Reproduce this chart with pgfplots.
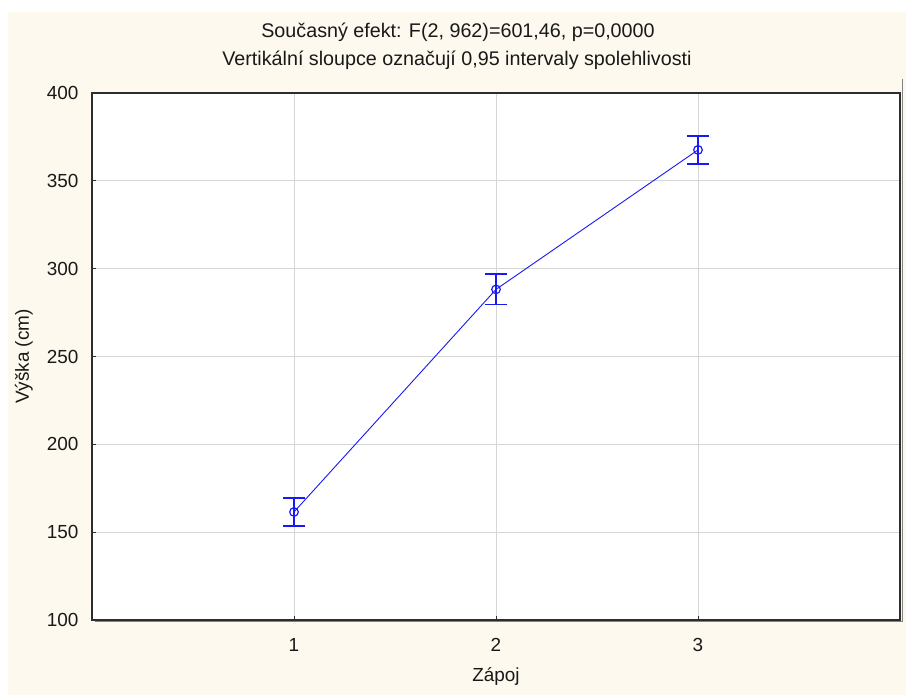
\documentclass[border=0pt]{standalone}
\usepackage{fontspec}
\setmainfont{Liberation Sans}
\usepackage{pgfplots}
\pgfplotsset{compat=1.18}
\definecolor{cream}{RGB}{253,249,238}
\definecolor{gridgray}{RGB}{214,214,214}
\definecolor{framecol}{RGB}{45,45,45}
\definecolor{shadowcol}{RGB}{130,130,130}
\definecolor{serblue}{RGB}{25,25,245}
\definecolor{txt}{RGB}{25,25,25}

\begin{document}
\fontsize{19}{23}\selectfont
\begin{tikzpicture}
  % page frame: white margin on the left and top, cream panel behind the chart
  \path[use as bounding box] (0,0) rectangle (906bp,695bp);
  \fill[white] (0,0) rectangle (906bp,695bp);
  \fill[cream] (8bp,0) rectangle (906bp,683bp);

  % two-line title
  \node[txt, font=\fontsize{19.8}{23}\selectfont] at (458bp,663bp) {Současný efekt: F(2, 962)=601,46, p=0,0000};
  \node[txt, font=\fontsize{19.8}{23}\selectfont] at (457bp,635bp) {Vertikální sloupce označují 0,95 intervaly spolehlivosti};

  \begin{axis}[
      at={(92bp,75bp)}, anchor=south west,
      scale only axis, width=808bp, height=527bp,
      xmin=0, xmax=4, ymin=100, ymax=400,
      xtick={1,2,3}, ytick={100,150,...,400},
      grid=major, grid style={gridgray, line width=1bp},
      axis line style={framecol, line width=1.4bp},
      axis background/.style={fill=white},
      tick align=inside, tick pos=left,
      major tick length=4bp,
      tick style={framecol, line width=1bp},
      /pgf/number format/assume math mode=true,
      ticklabel style={font=\fontsize{19}{23}\selectfont, text=txt},
      xticklabel style={anchor=center, yshift=-25bp},
      yticklabel style={anchor=east, xshift=-7bp},
      xlabel={Zápoj}, ylabel={Výška (cm)},
      label style={font=\fontsize{19}{23}\selectfont, text=txt},
      xlabel style={at={(axis description cs:0.5,-0.1063)}, anchor=center},
      ylabel style={at={(axis description cs:-0.0842,0.5)}, anchor=center},
    ]
    % means with 0.95 confidence intervals
    \addplot+[serblue, line width=0.9bp,
      mark=o, mark size=4.3bp, mark options={solid, serblue, line width=1.2bp},
      error bars/.cd, y dir=both, y explicit,
      error bar style={serblue, line width=1.8bp},
      error mark options={rotate=90, mark size=11bp, line width=1.8bp, serblue}]
    coordinates {
        (1,161.5) +- (0,7.8)
        (2,288.2) +- (0,8.6)
        (3,367.6) +- (0,7.9)
      };
  \end{axis}

  % drop shadow on the right and bottom of the plot frame
  \draw[shadowcol, line width=1bp] (902bp,616bp) -- (902bp,73bp) -- (95bp,73bp);
\end{tikzpicture}
\end{document}
